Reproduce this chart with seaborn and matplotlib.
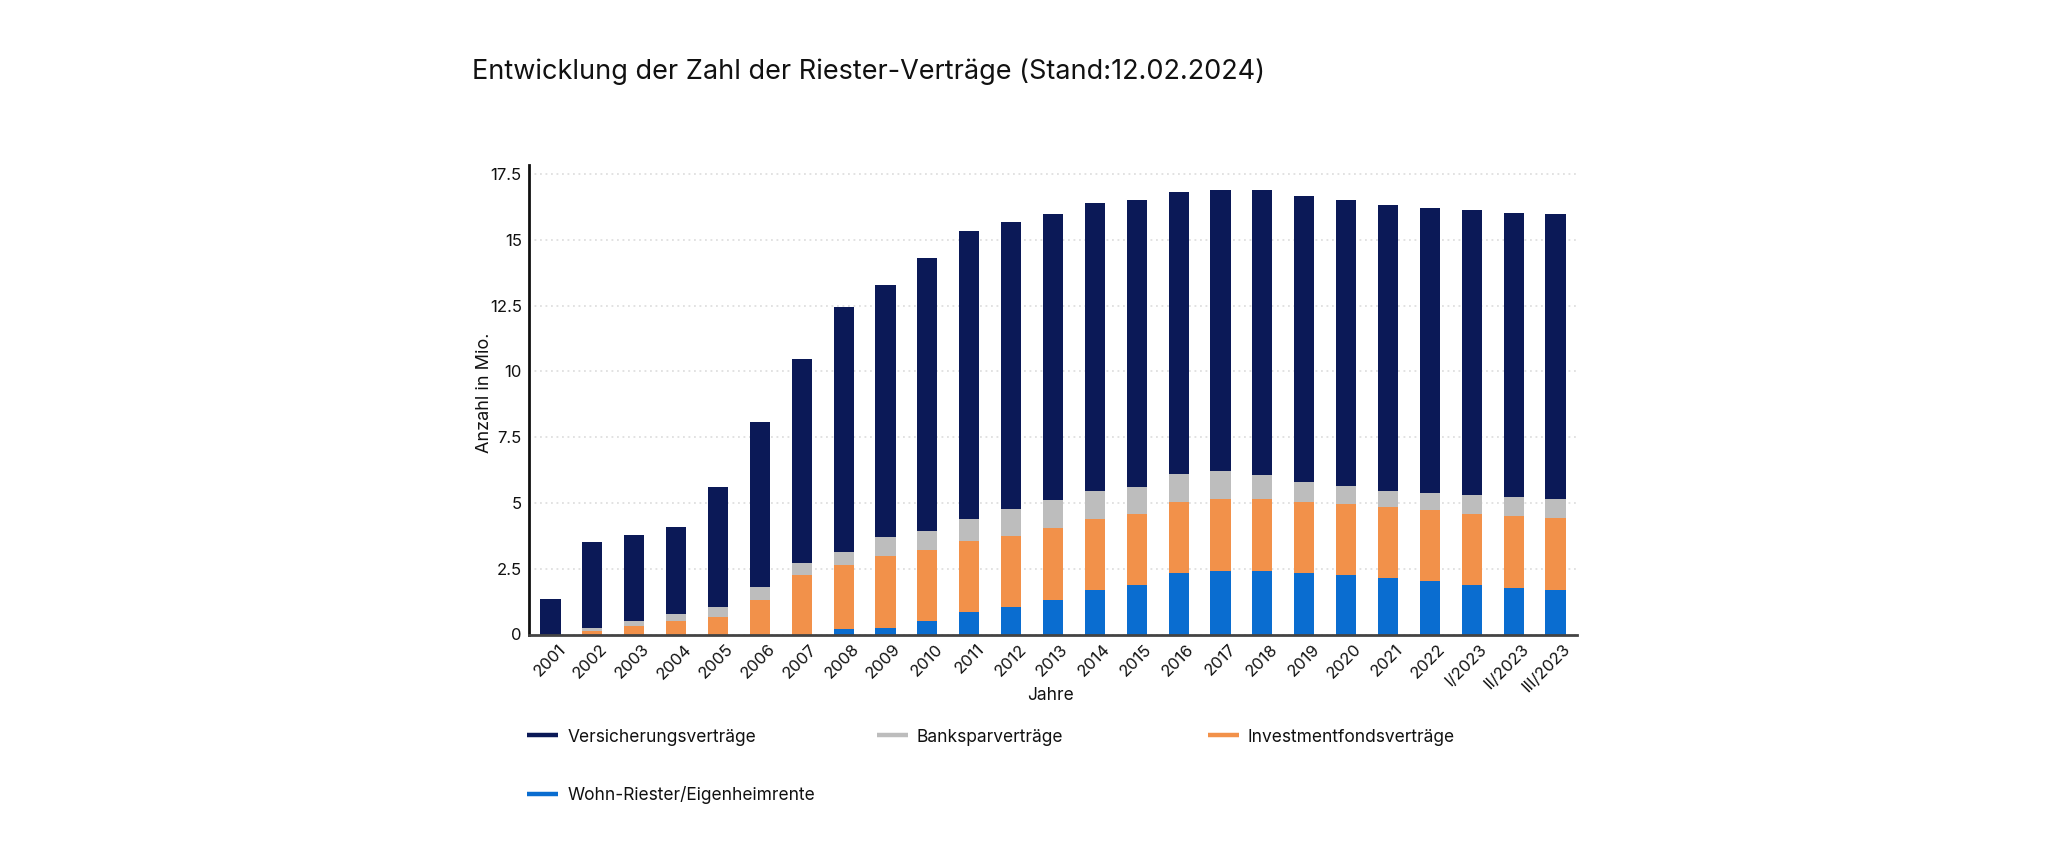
import numpy as np
import pandas as pd
import matplotlib
matplotlib.use("Agg")
import matplotlib.pyplot as plt
from matplotlib.lines import Line2D
from matplotlib.transforms import ScaledTranslation
import seaborn as sns

# ---- data (Mio. Verträge) ----
categories = ["2001", "2002", "2003", "2004", "2005", "2006", "2007", "2008", "2009",
              "2010", "2011", "2012", "2013", "2014", "2015", "2016", "2017", "2018",
              "2019", "2020", "2021", "2022", "I/2023", "II/2023", "III/2023"]
wohn_riester = [0, 0, 0, 0, 0, 0, 0, 0.22, 0.26, 0.51, 0.84, 1.05, 1.32, 1.68, 1.88,
                2.33, 2.41, 2.41, 2.33, 2.25, 2.14, 2.02, 1.88, 1.78, 1.70]
investment = [0, 0.13, 0.32, 0.51, 0.68, 1.32, 2.25, 2.43, 2.72, 2.69, 2.72, 2.71, 2.73,
              2.72, 2.71, 2.70, 2.73, 2.73, 2.71, 2.71, 2.71, 2.71, 2.71, 2.71, 2.72]
bankspar = [0, 0.13, 0.18, 0.27, 0.35, 0.49, 0.46, 0.47, 0.72, 0.72, 0.84, 1.00, 1.06,
            1.07, 1.03, 1.07, 1.07, 0.91, 0.77, 0.70, 0.62, 0.64, 0.70, 0.73, 0.72]
versicherung = [1.34, 3.24, 3.27, 3.32, 4.57, 6.28, 7.78, 9.33, 9.59, 10.41, 10.94, 10.94,
                10.87, 10.93, 10.89, 10.71, 10.70, 10.86, 10.85, 10.85, 10.86, 10.85,
                10.86, 10.81, 10.86]
yticks = [0, 2.5, 5, 7.5, 10, 12.5, 15, 17.5]
ytick_labels = ["0", "2.5", "5", "7.5", "10", "12.5", "15", "17.5"]

series_names = ["Versicherungsverträge", "Banksparverträge",
                "Investmentfondsverträge", "Wohn-Riester/Eigenheimrente"]
colors = {"Versicherungsverträge": "#0b1957",
          "Banksparverträge": "#bdbdbd",
          "Investmentfondsverträge": "#f2914a",
          "Wohn-Riester/Eigenheimrente": "#0a6dd0"}

title = "Entwicklung der Zahl der Riester-Verträge (Stand:12.02.2024)"

# ---- build stacked (cumulative) table ----
df = pd.DataFrame({"Jahr": categories,
                   "Wohn-Riester/Eigenheimrente": wohn_riester,
                   "Investmentfondsverträge": investment,
                   "Banksparverträge": bankspar,
                   "Versicherungsverträge": versicherung})
stack_order = ["Wohn-Riester/Eigenheimrente", "Investmentfondsverträge",
               "Banksparverträge", "Versicherungsverträge"]
cum = df[stack_order].cumsum(axis=1)
cum["Jahr"] = categories

sns.set_theme(style="white")
plt.rcParams["font.family"] = ["Inter", "DejaVu Sans"]

fig = plt.figure(figsize=(20.48, 8.56), dpi=100)
ax = fig.add_axes([528.7 / 2048, 1 - 634.5 / 856, (1577.3 - 528.7) / 2048, (634.5 - 165) / 856])

# draw from top of stack downwards so each layer covers the previous one
for name in reversed(stack_order):
    sns.barplot(data=cum, x="Jahr", y=name, order=categories, color=colors[name],
                saturation=1, width=0.48, linewidth=0, ax=ax, zorder=3)

ax.set_xlim(-0.52, 24.52)
ax.set_ylim(0, 17.85)

# grid
ax.set_yticks(yticks)
ax.set_yticklabels(ytick_labels, fontsize=12, color="#111111")
ax.yaxis.grid(True, linestyle=(0, (1.2, 2.4)), color="#dadada", linewidth=1.1, zorder=0)
ax.xaxis.grid(False)
ax.tick_params(axis="y", length=0, pad=5)

# x ticks
ax.set_xticks(range(len(categories)))
ax.set_xticklabels(categories, rotation=45, ha="right", va="top",
                   rotation_mode="anchor", fontsize=12, color="#111111")
ax.tick_params(axis="x", which="major", length=0, pad=5)
offset = ScaledTranslation(0.075, 0, fig.dpi_scale_trans)
for lab in ax.get_xticklabels():
    lab.set_transform(lab.get_transform() + offset)
ax.set_xticks(np.arange(-0.5, len(categories) - 0.5, 1.0), minor=True)
ax.tick_params(axis="x", which="minor", length=8, width=1.2, color="#d0d0d0", direction="out")
mt = ax.xaxis.get_minor_ticks()
mt[0].tick1line.set_color("#111111")
mt[0].tick1line.set_markeredgewidth(2)

for side in ["top", "right"]:
    ax.spines[side].set_visible(False)
ax.spines["left"].set_color("#111111")
ax.spines["left"].set_linewidth(2)
ax.spines["bottom"].set_color("#444444")
ax.spines["bottom"].set_linewidth(2)
ax.spines["bottom"].set_zorder(5)

ax.set_xlabel("")
ax.set_ylabel("Anzahl in Mio.", fontsize=13, color="#111111")
ax.yaxis.set_label_coords(-0.034, 0.514)
fig.text(1050 / 2048, 1 - 695 / 856, "Jahre", ha="center", va="center",
         fontsize=12.5, color="#111111")

fig.text(471.5 / 2048, 1 - 79 / 856, title, ha="left", va="baseline",
         fontsize=19.5, color="#111111")

# legend: three columns
def handle(name):
    return Line2D([0], [0], color=colors[name], linewidth=3.2, solid_capstyle="butt")

leg_kw = dict(frameon=False, fontsize=12.5, handlelength=1.78, handletextpad=0.52,
              borderpad=0, borderaxespad=0, labelspacing=2.35, loc="upper left",
              labelcolor="#111111")
col_specs = [(527.3, ["Versicherungsverträge", "Wohn-Riester/Eigenheimrente"]),
             (876.7, ["Banksparverträge"]),
             (1208.0, ["Investmentfondsverträge"])]
top_y = 1 - 728.5 / 856
for xpx, names in col_specs:
    lg = fig.legend([handle(n) for n in names], names,
                    bbox_to_anchor=(xpx / 2048, top_y), **leg_kw)

fig.savefig("out.png", dpi=100, facecolor="white")
